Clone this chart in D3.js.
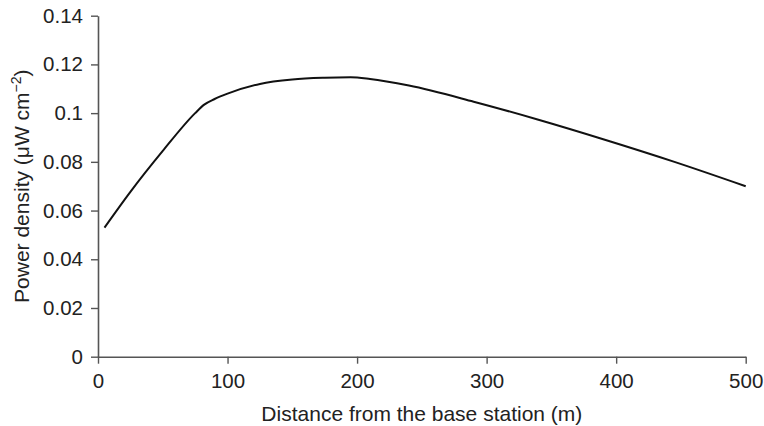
<!DOCTYPE html>
<html>
<head>
<meta charset="utf-8">
<script src="https://d3js.org/d3.v7.min.js"></script>
<style>
  body { margin: 0; background: #fff; }
  text { font-family: "Liberation Sans", Arial, sans-serif; fill: #222; }
</style>
</head>
<body>
<div id="chart"></div>
<script>
// Data
const distances = [5, 25, 50, 75, 82, 90, 100, 125, 150, 175, 195, 210, 240, 290, 340, 390, 445, 500];
const powerDensity = [0.053, 0.0677, 0.0845, 0.1, 0.1035, 0.1058, 0.108, 0.112, 0.1138, 0.1145, 0.1147, 0.1140, 0.1113, 0.1047, 0.0973, 0.0893, 0.0800, 0.0700];
const xTicks = [0, 100, 200, 300, 400, 500];
const yTicks = [0, 0.02, 0.04, 0.06, 0.08, 0.1, 0.12, 0.14];

const width = 764, height = 426;

const svg = d3.select("#chart")
    .append("svg")
    .attr("width", width)
    .attr("height", height);

const x = d3.scaleLinear().domain([0, 500]).range([98, 745.7]);
const y = d3.scaleLinear().domain([0, 0.14]).range([356.7, 15.7]);

const fmt = d => d === 0 ? "0" : String(+d.toFixed(2));

// x axis
const xAxis = svg.append("g")
    .attr("transform", `translate(0,${y(0)})`)
    .call(d3.axisBottom(x).tickValues(xTicks).tickSize(7).tickPadding(10).tickSizeOuter(0));

// y axis
const yAxis = svg.append("g")
    .attr("transform", `translate(${x(0)},0)`)
    .call(d3.axisLeft(y).tickValues(yTicks).tickFormat(fmt).tickSize(7).tickPadding(8).tickSizeOuter(0));

[xAxis, yAxis].forEach(g => {
    g.select(".domain").attr("stroke", "#555").attr("stroke-width", 1.6);
    g.selectAll(".tick line").attr("stroke", "#555").attr("stroke-width", 1.4);
    g.selectAll(".tick text")
        .style("font-family", "'Liberation Sans', Arial, sans-serif")
        .style("font-size", "20.5px")
        .attr("fill", "#222");
});

// curve
const line = d3.line()
    .x((d, i) => x(distances[i]))
    .y(d => y(d))
    .curve(d3.curveMonotoneX);

svg.append("path")
    .datum(powerDensity)
    .attr("fill", "none")
    .attr("stroke", "#111")
    .attr("stroke-width", 2)
    .attr("d", line);

// axis titles
svg.append("text")
    .attr("x", (x(0) + x(500)) / 2)
    .attr("y", 420.5)
    .attr("text-anchor", "middle")
    .style("font-size", "21px")
    .text("Distance from the base station (m)");

const yl = svg.append("text")
    .attr("transform", `translate(29,${y(0.07)}) rotate(-90)`)
    .attr("text-anchor", "middle")
    .style("font-size", "21px");
yl.append("tspan").text("Power density (\u03bcW cm");
yl.append("tspan").attr("dy", -8).style("font-size", "14px").text("\u22122");
yl.append("tspan").attr("dy", 8).text(")");
</script>
</body>
</html>
